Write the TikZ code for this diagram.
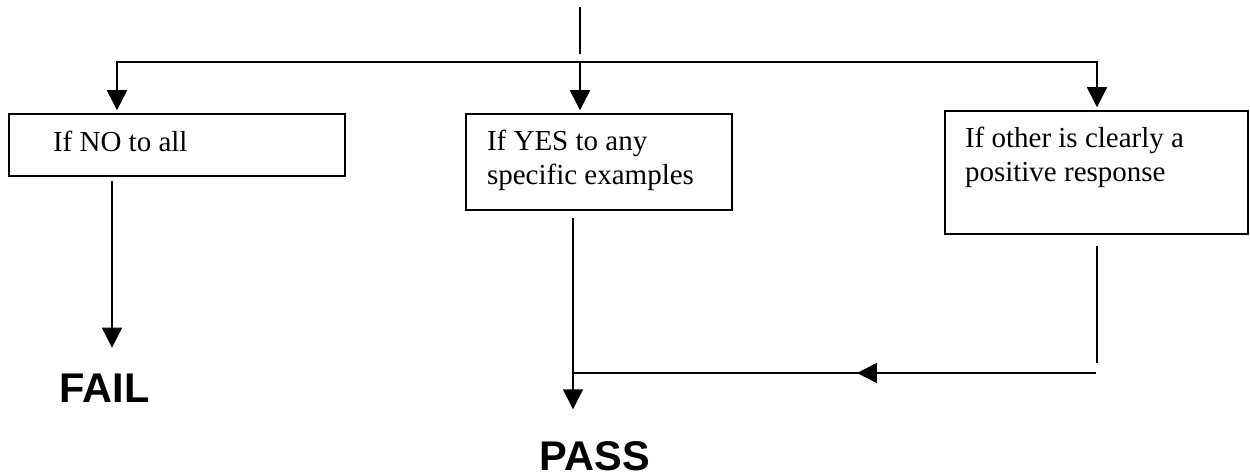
\documentclass[tikz,border=0pt]{standalone}
\usepackage{fontspec}
\setmainfont{Liberation Serif}
\newfontfamily\termfont{Liberation Sans}
\usetikzlibrary{arrows.meta,calc}

\begin{document}
\begin{tikzpicture}[x=1pt,
            y=-1pt,
            >={Triangle[length=20pt,width=20pt]},
            line width=1.5pt,
            box/.style={draw,rectangle,inner sep=0pt},
            txt/.style={anchor=base west,align=left,inner sep=0pt,
                        font=\fontsize{29pt}{33.5pt}\selectfont},
            term/.style={anchor=base west,inner sep=0pt,
                         font=\termfont\bfseries\fontsize{41.5pt}{48pt}\selectfont}]

        \useasboundingbox (0,0) rectangle (1250,476);

        \node[box,minimum width=336pt,minimum height=62pt]  (no)    at (177,145)      {};
        \node[box,minimum width=266pt,minimum height=96pt]  (yes)   at (599,162)      {};
        \node[box,minimum width=303pt,minimum height=123pt] (other) at (1096.5,172.5) {};

        % base of a two line node is its last line
        \node[txt] (notext)    at ([shift={(44,38)}]no.north west)    {If NO to all};
        \node[txt] (yestext)   at ([shift={(21,71)}]yes.north west)   {If YES to any\\specific examples};
        \node[txt] (othertext) at ([shift={(20,71)}]other.north west) {If other is clearly a\\positive response};

        \node[term] (fail) at (59,402)  {FAIL};
        \node[term] (pass) at (539,470) {PASS};

        \coordinate (top)      at (580,7);
        \coordinate (split)    at (580,54);
        \coordinate (busL)     at (117,62);
        \coordinate (busR)     at (1097,62);
        \coordinate (noout)    at (112,181);
        \coordinate (yesout)   at (573,218);
        \coordinate (otherout) at (1097,246);
        \coordinate (otherend) at (1097,363);
        \coordinate (join)     at (1096,373);

        % fan out to the three answers
        \draw (top) -- (split);
        \draw[<->,shorten <=3pt,shorten >=3pt] (busL |- no.north) -- (busL) -- (busR) -- (busR |- other.north);
        \draw[->,shorten >=3pt] (split |- busL) -- (split |- yes.north);

        % results
        \draw[->,shorten >=25pt] (noout) -- (noout |- fail.north);
        \draw[->,shorten >=31pt] (yesout) -- (yesout |- pass.north);
        \draw (otherout) -- (otherend);
        \draw (join) -- (yesout |- join);
        \draw[->] (join) -- ($(join)!0.457!(yesout |- join)$);

\end{tikzpicture}
\end{document}
